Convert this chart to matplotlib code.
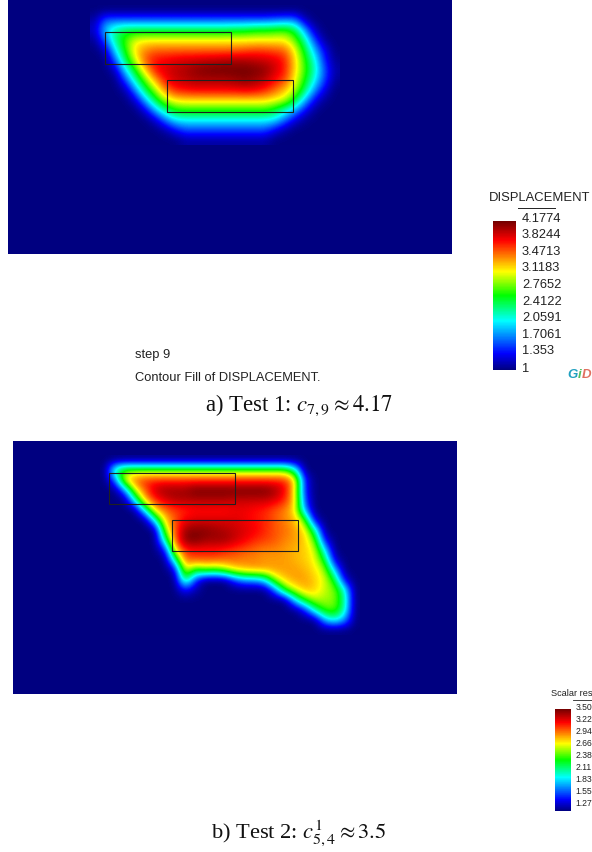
import numpy as np
import matplotlib
matplotlib.use('Agg')
import matplotlib.pyplot as plt
from matplotlib.cm import ScalarMappable
from matplotlib.colors import Normalize, LinearSegmentedColormap
from matplotlib.patches import Rectangle

W, H = 592, 852
plt.rcParams['font.family'] = ['Liberation Sans', 'DejaVu Sans']
plt.rcParams['mathtext.fontset'] = 'stix'

RAINBOW = LinearSegmentedColormap.from_list('gid', [
    (0.00, (0, 0, 0.5)), (0.11, (0, 0, 1)), (0.33, (0, 1, 1)), (0.50, (0, 1, 0)),
    (0.66, (1, 1, 0)), (0.87, (1, 0, 0)), (1.00, (0.45, 0, 0))])

# Panel a: sampled displacement (x px columns, y px rows)
a_x = [95,105,115,125,135,145,155,165,175,185,195,205,215,225,235,245,255,265,275,285,295,305,315,325,335]
a_y = [10,20,30,40,50,60,70,80,90,100,110,120,130,140]
a_v = [
 [1]*25,
 [1.1,1.6,1.6,1.6,1.6,1.6,1.6,1.6,1.6,1.6,1.6,1.6,1.6,1.6,1.6,1.6,1.6,1.6,1.65,1.7,1.7,1.15,1,1,1],
 [1.2,1.9,2.3,2.45,2.45,2.45,2.45,2.45,2.45,2.45,2.45,2.45,2.45,2.45,2.5,2.5,2.6,2.6,2.65,2.7,2.5,1.8,1.15,1,1],
 [1.05,1.6,2.3,2.7,3.05,3.1,3.1,3.1,3.1,3.1,3.1,3.1,3.1,3.1,3.1,3.1,3.1,3.1,3.1,3.1,2.8,2.25,1.5,1.05,1],
 [1,1.15,2.0,2.6,3.2,3.4,3.5,3.5,3.5,3.5,3.5,3.5,3.5,3.5,3.5,3.55,3.6,3.6,3.55,3.5,3.1,2.5,1.85,1.3,1],
 [1,1,1.6,2.4,3.0,3.55,3.75,3.8,3.85,3.9,3.9,3.95,3.95,4.0,4.0,4.0,3.95,3.9,3.85,3.7,3.2,2.65,2.1,1.4,1.05],
 [1,1,1.15,1.95,2.6,3.2,3.75,3.85,3.95,4.0,4.1,4.15,4.18,4.18,4.18,4.18,4.15,4.1,3.9,3.7,3.2,2.7,2.2,1.55,1.1],
 [1,1,1,1.5,2.2,2.8,3.3,3.75,3.9,3.95,4.0,4.0,4.0,4.0,4.05,4.1,4.05,3.95,3.75,3.6,3.1,2.6,2.05,1.5,1.05],
 [1,1,1,1.1,1.7,2.4,2.9,3.4,3.7,3.75,3.8,3.8,3.8,3.8,3.8,3.85,3.8,3.7,3.5,3.25,2.95,2.4,1.75,1.25,1],
 [1,1,1,1,1.2,1.85,2.45,2.95,3.15,3.2,3.2,3.2,3.2,3.2,3.2,3.2,3.2,3.2,3.1,3.0,2.55,1.9,1.3,1.05,1],
 [1,1,1,1,1,1.25,1.85,2.3,2.6,2.65,2.65,2.65,2.65,2.65,2.65,2.65,2.65,2.65,2.5,2.2,1.85,1.35,1.05,1,1],
 [1,1,1,1,1,1,1.2,1.65,2.0,2.05,2.05,2.05,2.05,2.05,2.05,2.05,2.05,2.05,2.0,1.65,1.25,1.05,1,1,1],
 [1,1,1,1,1,1,1,1.1,1.35,1.55,1.55,1.55,1.55,1.55,1.55,1.55,1.55,1.55,1.3,1.1,1,1,1,1,1],
 [1,1,1,1,1,1,1,1,1,1.1,1.1,1.1,1.1,1.1,1.1,1.1,1.1,1.1,1,1,1,1,1,1,1],
]

# Panel b: sampled scalar result
b_x = [105,115,125,135,145,155,165,175,185,195,205,215,225,235,245,255,265,275,285,295,305,315,325,335,345,355]
b_y = [460,470,480,490,500,510,520,530,540,550,560,570,580,590,600,610,620,630]
b_v = [
 [1]*26,
 [1,2.1,2.4,2.4,2.4,2.4,2.4,2.4,2.4,2.4,2.4,2.4,2.4,2.4,2.4,2.4,2.4,2.4,2.4,2.0,1,1,1,1,1,1],
 [1,1.5,2.7,3.0,3.1,3.1,3.1,3.1,3.1,3.1,3.1,3.1,3.1,3.1,3.1,3.1,3.1,3.1,3.1,2.8,1.3,1,1,1,1,1],
 [1,1,1.6,2.6,3.0,3.3,3.4,3.4,3.4,3.5,3.5,3.5,3.5,3.5,3.5,3.5,3.5,3.4,3.2,2.7,1.3,1,1,1,1,1],
 [1,1,1,1.9,2.8,3.1,3.25,3.35,3.35,3.35,3.35,3.35,3.35,3.3,3.3,3.3,3.3,3.25,3.1,2.75,1.4,1,1,1,1,1],
 [1,1,1,1,1.9,2.75,2.95,3.05,3.1,3.15,3.15,3.15,3.15,3.2,3.2,3.15,3.1,3.0,2.9,2.7,1.6,1,1,1,1,1],
 [1,1,1,1,1,1.9,2.75,3.0,3.2,3.25,3.25,3.25,3.25,3.25,3.2,3.15,3.1,3.0,2.9,2.8,2.4,1.15,1,1,1,1],
 [1,1,1,1,1,1,2.5,3.0,3.4,3.45,3.45,3.4,3.35,3.3,3.25,3.2,3.1,3.0,2.95,2.85,2.7,2.0,1,1,1,1],
 [1,1,1,1,1,1,2.0,3.0,3.45,3.5,3.4,3.4,3.4,3.3,3.2,3.1,3.05,3.0,2.9,2.85,2.75,2.4,1.25,1,1,1],
 [1,1,1,1,1,1,1.25,2.7,3.1,3.15,3.15,3.15,3.1,3.05,3.0,2.95,2.9,2.9,2.85,2.8,2.75,2.6,1.8,1,1,1],
 [1,1,1,1,1,1,1,2.0,2.95,3.0,3.0,3.0,2.95,2.95,2.9,2.9,2.85,2.85,2.85,2.8,2.75,2.65,2.2,1.15,1,1],
 [1,1,1,1,1,1,1,1.15,2.7,2.2,2.4,2.3,2.5,2.7,2.8,2.85,2.85,2.85,2.85,2.85,2.8,2.7,2.5,1.7,1,1],
 [1,1,1,1,1,1,1,1,2.2,1.4,1,1,1,1.4,1.6,1.6,1.8,2.5,2.75,2.85,2.85,2.75,2.6,2.2,1.2,1],
 [1,1,1,1,1,1,1,1,1.3,1.1,1,1,1,1,1,1,1,1.5,2.3,2.6,2.8,2.75,2.55,2.45,1.9,1],
 [1,1,1,1,1,1,1,1,1,1,1,1,1,1,1,1,1,1,1,1.8,2.3,2.55,2.5,2.45,2.0,1],
 [1,1,1,1,1,1,1,1,1,1,1,1,1,1,1,1,1,1,1,1,1.3,2.0,2.35,2.4,1.95,1],
 [1,1,1,1,1,1,1,1,1,1,1,1,1,1,1,1,1,1,1,1,1,1,1.7,1.9,1.6,1],
 [1]*26,
]

a_ticks = ['4.1774','3.8244','3.4713','3.1183','2.7652','2.4122','2.0591','1.7061','1.353','1']
a_tick_y = [219,235,252,268,285,302,318,335,351,369]
b_ticks = ['3.50','3.22','2.94','2.66','2.38','2.11','1.83','1.55','1.27']
b_tick_y = [708,720,732,744,756,768,780,791,803]

fig = plt.figure(figsize=(W/100, H/100), dpi=100)
bg = fig.add_axes([0, 0, 1, 1])
bg.set_xlim(0, W); bg.set_ylim(H, 0); bg.axis('off')

def panel(x0, x1, y0, y1, xs, ys, vals, vmax, rects):
    ax = fig.add_axes([x0/W, 1-y1/H, (x1-x0)/W, (y1-y0)/H])
    ax.set_facecolor(RAINBOW(0.0))
    ax.set_xticks([]); ax.set_yticks([])
    for s in ax.spines.values():
        s.set_visible(False)
    dx = xs[1]-xs[0]; dy = ys[1]-ys[0]
    ax.imshow(np.array(vals, float), cmap=RAINBOW, vmin=1, vmax=vmax, aspect='auto',
              interpolation='bicubic', interpolation_stage='data',
              extent=[xs[0]-dx/2, xs[-1]+dx/2, ys[-1]+dy/2, ys[0]-dy/2])
    ax.set_xlim(x0, x1); ax.set_ylim(y1, y0)
    for (rx0, ry0, rx1, ry1) in rects:
        ax.add_patch(Rectangle((rx0, ry0), rx1-rx0, ry1-ry0, fill=False, ec='#202020', lw=0.8))

panel(8, 452, 0, 254, a_x, a_y, a_v, 4.1774, [(104.5,32,231,64),(167,80,293,112)])
panel(13, 457, 441, 694, b_x, b_y, b_v, 3.5, [(109,473,235,504),(172,520,298,551)])

def cbar(x0, x1, y0, y1, vmin, vmax):
    cax = fig.add_axes([x0/W, 1-y1/H, (x1-x0)/W, (y1-y0)/H])
    cb = fig.colorbar(ScalarMappable(Normalize(vmin, vmax), RAINBOW), cax=cax)
    cb.set_ticks([]); cb.outline.set_visible(False)

cbar(493, 516, 221, 370, 1, 4.1774)
cbar(555, 571, 709, 811, 1, 3.5)

for t, y in zip(a_ticks, a_tick_y):
    bg.text(522, y, t, fontsize=9.3, color='#222222', va='center', ha='left')
for t, y in zip(b_ticks, b_tick_y):
    bg.text(575.5, y, t, fontsize=6.2, color='#222222', va='center', ha='left', clip_on=True)

bg.text(489, 198, 'DISPLACEMENT', fontsize=9.4, color='#222222', va='center', ha='left')
bg.plot([518, 555], [208, 208], color='#222222', lw=0.7)
bg.text(551, 693.5, 'Scalar res', fontsize=6.6, color='#222222', va='center', ha='left', clip_on=True)
bg.plot([573, 592], [700, 700], color='#222222', lw=0.6)

bg.text(135, 355, 'step 9', fontsize=9.3, color='#222222', va='center', ha='left')
bg.text(135, 378, 'Contour Fill of DISPLACEMENT.', fontsize=9.3, color='#222222', va='center', ha='left')

bg.text(299, 405, r'a) Test 1: $c_{7,9} \approx 4.17$', fontsize=16.4, family='Liberation Serif', va='center', ha='center', color='#111111')
bg.text(299, 833, r'b) Test 2: $c_{5,4}^{1} \approx 3.5$', fontsize=16.2, family='Liberation Serif', va='center', ha='center', color='#111111')

# GiD logo, letter by letter in rainbow colours
bg.text(567, 375, 'G', fontsize=9.5, fontweight='bold', style='italic', color='#20a0c0', va='center', ha='left')
bg.text(577.5, 375, 'i', fontsize=9.5, fontweight='bold', style='italic', color='#50c060', va='center', ha='left')
bg.text(581.5, 375, 'D', fontsize=9.5, fontweight='bold', style='italic', color='#e07060', va='center', ha='left')

fig.savefig('out.png', dpi=100)
